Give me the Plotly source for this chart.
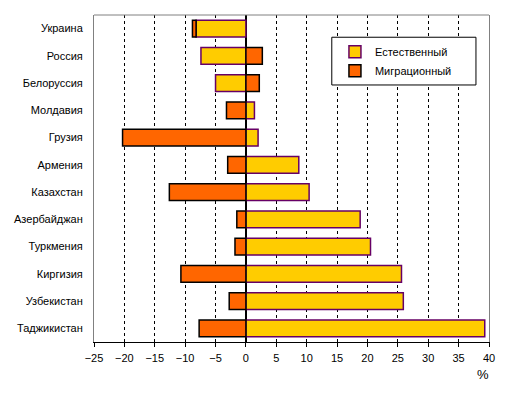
import plotly.graph_objects as go

countries = ["Украина", "Россия", "Белоруссия", "Молдавия", "Грузия", "Армения",
             "Казахстан", "Азербайджан", "Туркмения", "Киргизия", "Узбекистан", "Таджикистан"]
natural = [-8.2, -7.4, -5.0, 1.4, 2.0, 8.7, 10.4, 18.8, 20.5, 25.6, 25.9, 39.3]
migration = [-0.6, 2.7, 2.2, -3.2, -20.3, -3.0, -12.6, -1.5, -1.8, -10.7, -2.75, -7.7]
x_ticks = list(range(-25, 45, 5))

fig = go.Figure()
fig.add_trace(go.Bar(y=countries, x=natural, orientation="h", name="Естественный",
                     marker=dict(color="#FFCC00", line=dict(color="#660066", width=1.5))))
fig.add_trace(go.Bar(y=countries, x=migration, orientation="h", name="Миграционный",
                     marker=dict(color="#FF6600", line=dict(color="#000000", width=1.5))))

fig.update_layout(
    width=515, height=395,
    margin=dict(l=94, r=26, t=15, b=53),
    barmode="relative", bargap=0.38,
    plot_bgcolor="white", paper_bgcolor="white",
    font=dict(family="Liberation Sans, Arial, sans-serif", size=11, color="black"),
    showlegend=True,
    legend=dict(x=0.61, y=0.932, xanchor="left", yanchor="top",
                borderwidth=0, bgcolor="rgba(0,0,0,0)",
                font=dict(size=11), tracegroupgap=12, itemwidth=30),
    xaxis=dict(range=[-25, 40], tickvals=x_ticks, ticks="outside", ticklen=4,
               tickcolor="black", showline=True, linecolor="black", linewidth=1,
               ticklabelstandoff=2,
               showgrid=True, gridcolor="black", griddash="3px,3px", gridwidth=1,
               zeroline=True, zerolinecolor="black", zerolinewidth=2),
    yaxis=dict(autorange="reversed", showline=True, linecolor="#808080", linewidth=1,
               mirror=True, ticks="", ticklabelstandoff=8, showgrid=False),
    shapes=[dict(type="line", xref="paper", yref="paper", x0=0, x1=1, y0=1, y1=1,
                 line=dict(color="#808080", width=1)),
            dict(type="rect", xref="paper", yref="paper", x0=0.602, x1=0.967,
                 y0=0.786, y1=0.932, fillcolor="white", layer="above",
                 line=dict(color="black", width=1))],
    annotations=[dict(text="%", xref="paper", yref="paper", x=0.985, y=-0.07,
                      showarrow=False, font=dict(size=13), xanchor="center", yanchor="top")],
)

fig.write_html("out.html")
